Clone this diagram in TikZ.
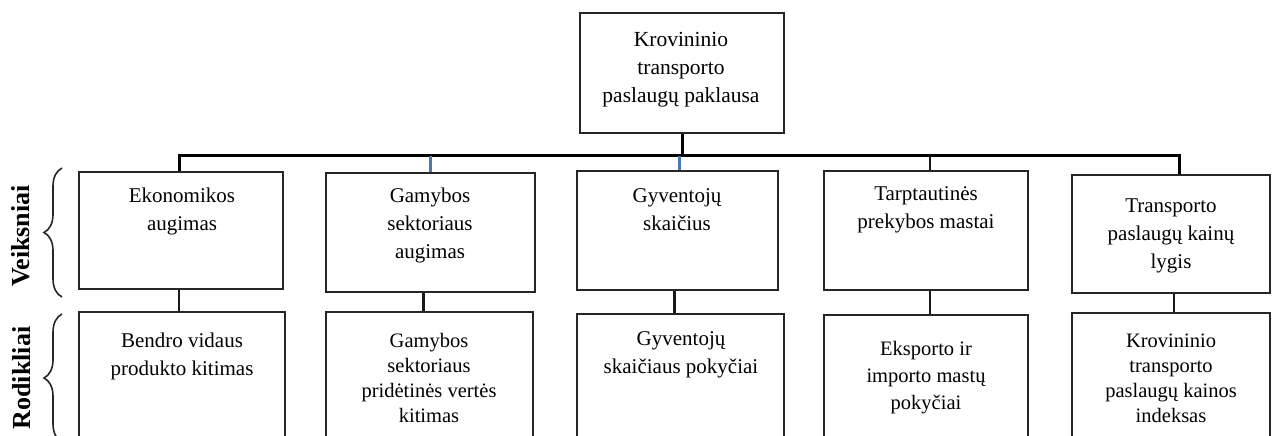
\documentclass[tikz,border=0pt]{standalone}
\usepackage{fontspec}
\setmainfont{Liberation Serif}
\usetikzlibrary{decorations.pathreplacing}
\definecolor{linkblue}{HTML}{4A7AB0}
\begin{document}
\begin{tikzpicture}[x=1pt,y=-1pt,
  box/.style={draw=black!85, line width=1.6pt, inner sep=0pt},
  txt/.style={align=center, inner sep=0pt, font=\fontsize{21}{28}\selectfont},
  txtr/.style={align=center, inner sep=0pt, font=\fontsize{20.5}{25}\selectfont},
  link/.style={draw=black!90, line width=2.2pt},
  bus/.style={draw=black, line width=3pt},
  side/.style={rotate=90, inner sep=0pt, font=\fontsize{26}{30}\selectfont\bfseries},
  brc/.style={draw=black!85, line width=1.6pt, decorate, decoration={brace, amplitude=18pt}}]
\useasboundingbox (0,0) rectangle (1272,436);
\clip (0,0) rectangle (1272,436);
% top box
\node[box, minimum width=204pt, minimum height=120pt] (top) at (682,73) {};
\node[txt, font=\fontsize{21.5}{28}\selectfont] (topt) at (681,70) {Krovininio\\transporto\\paslaugų paklausa};
% Veiksniai boxes
\node[box, minimum width=204pt, minimum height=117pt] (v1) at (181,230.5) {};
\node[box, minimum width=209pt, minimum height=119pt] (v2) at (430.5,232.5) {};
\node[box, minimum width=201pt, minimum height=119pt] (v3) at (677.5,230.5) {};
\node[box, minimum width=204pt, minimum height=119pt] (v4) at (926,230.5) {};
\node[box, minimum width=198pt, minimum height=118pt] (v5) at (1171,234) {};
\node[txt] (v1t) at (182,211) {Ekonomikos\\augimas};
\node[txt] (v2t) at (430,225) {Gamybos\\sektoriaus\\augimas};
\node[txt] (v3t) at (677,210) {Gyventojų\\skaičius};
\node[txt] (v4t) at (926,210) {Tarptautinės\\prekybos mastai};
\node[txt] (v5t) at (1171,236) {Transporto\\paslaugų kainų\\lygis};
% Rodikliai boxes
\node[box, minimum width=206pt, minimum height=148pt] (r1) at (182,386) {};
\node[box, minimum width=207pt, minimum height=148pt] (r2) at (429.5,386) {};
\node[box, minimum width=207pt, minimum height=146pt] (r3) at (680.5,387) {};
\node[box, minimum width=204pt, minimum height=145pt] (r4) at (926,387.5) {};
\node[box, minimum width=198pt, minimum height=147pt] (r5) at (1171,386.5) {};
\node[txt] (r1t) at (182,356) {Bendro vidaus\\produkto kitimas};
\node[txtr] (r2t) at (429,378) {Gamybos\\sektoriaus\\pridėtinės vertės\\kitimas};
\node[txt] (r3t) at (681,355) {Gyventojų\\skaičiaus pokyčiai};
\node[txtr, font=\fontsize{20.5}{27}\selectfont] (r4t) at (926,378) {Eksporto ir\\importo mastų\\pokyčiai};
\node[txtr] (r5t) at (1171,378) {Krovininio\\transporto\\paslaugų kainos\\indeksas};
% connectors
\draw[bus] (top.south) -- ++(0,22) coordinate (bj);
\draw[bus] ([xshift=-2pt]v1.north) |- (bj) -| ([xshift=8pt]v5.north);
\draw[link, draw=linkblue] (v2.north) -- (v2.north |- bj);
\draw[link, draw=linkblue] ([xshift=2pt]v3.north) -- ([xshift=2pt]v3.north |- bj);
\draw[link] ([xshift=4pt]v4.north) -- ([xshift=4pt]v4.north |- bj);
\draw[link] ([xshift=-2pt]v1.south) -- ([xshift=-2pt]v1.south |- r1.north);
\draw[link] ([xshift=-7pt]v2.south) -- ([xshift=-7pt]v2.south |- r2.north);
\draw[link] ([xshift=-3pt]v3.south) -- ([xshift=-3pt]v3.south |- r3.north);
\draw[link] ([xshift=4pt]v4.south) -- ([xshift=4pt]v4.south |- r4.north);
\draw[link] ([xshift=3pt]v5.south) -- ([xshift=3pt]v5.south |- r5.north);
% braces and side labels
\draw[brc] (62,297) -- (62,168);
\draw[brc] (62,442) -- (62,314);
\node[side] (lv) at (21,236) {Veiksniai};
\node[side] (lr) at (22,378) {Rodikliai};
\end{tikzpicture}
\end{document}
